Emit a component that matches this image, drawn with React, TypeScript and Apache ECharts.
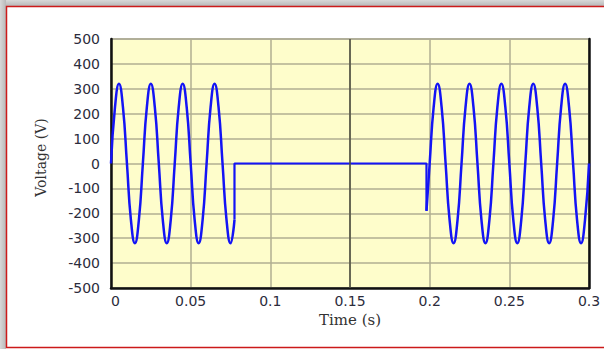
import React, { useEffect, useRef } from "react";
import * as echarts from "echarts";

// Time ticks / axis settings
const xTicks = [0, 0.05, 0.1, 0.15, 0.2, 0.25, 0.3];
const yTicks = [-500, -400, -300, -200, -100, 0, 100, 200, 300, 400, 500];

// Segment 1: supply present (0 – 0.0775 s)
const seg1Time = [
  0, 0.0025, 0.005, 0.0075, 0.01, 0.0125, 0.015, 0.0175,
  0.02, 0.0225, 0.025, 0.0275, 0.03, 0.0325, 0.035, 0.0375,
  0.04, 0.0425, 0.045, 0.0475, 0.05, 0.0525, 0.055, 0.0575,
  0.06, 0.0625, 0.065, 0.0675, 0.07, 0.0725, 0.075, 0.0775,
];
const seg1Volt = [
  0, 226, 320, 226, 0, -226, -320, -226,
  0, 226, 320, 226, 0, -226, -320, -226,
  0, 226, 320, 226, 0, -226, -320, -226,
  0, 226, 320, 226, 0, -226, -320, -226,
];

// Interruption: voltage held at zero
const gapTime = [0.0775, 0.0775, 0.198, 0.198];
const gapVolt = [-226, 0, 0, -190];

// Segment 2: supply restored (0.198 – 0.3 s)
const seg2Time = [
  0.198, 0.2, 0.2025, 0.205, 0.2075, 0.21, 0.2125, 0.215, 0.2175,
  0.22, 0.2225, 0.225, 0.2275, 0.23, 0.2325, 0.235, 0.2375,
  0.24, 0.2425, 0.245, 0.2475, 0.25, 0.2525, 0.255, 0.2575,
  0.26, 0.2625, 0.265, 0.2675, 0.27, 0.2725, 0.275, 0.2775,
  0.28, 0.2825, 0.285, 0.2875, 0.29, 0.2925, 0.295, 0.2975, 0.3,
];
const seg2Volt = [
  -190, 0, 226, 320, 226, 0, -226, -320, -226,
  0, 226, 320, 226, 0, -226, -320, -226,
  0, 226, 320, 226, 0, -226, -320, -226,
  0, 226, 320, 226, 0, -226, -320, -226,
  0, 226, 320, 226, 0, -226, -320, -226, 0,
];

const pairs = (t: number[], v: number[]) => t.map((x, i) => [x, v[i]]);

export default function App() {
  const ref = useRef<HTMLDivElement>(null);
  useEffect(() => {
    if (!ref.current) return;
    const chart = echarts.init(ref.current, undefined, { renderer: "svg" });
    const blue = "#1414f5";
    const gridColor = "#b0ae92";
    const labelColor = "#2c2c3c";
    chart.setOption({
      animation: false,
      backgroundColor: "#ffffff",
      graphic: [
        {
          type: "rect",
          z: -10,
          shape: { x: 0, y: 0, width: 604, height: 6 },
          style: {
            fill: new echarts.graphic.LinearGradient(0, 0, 0, 1, [
              { offset: 0, color: "#d8d8d8" },
              { offset: 1, color: "#b8b8b8" },
            ]),
          },
          silent: true,
        },
        {
          type: "rect",
          z: -10,
          shape: { x: 0, y: 0, width: 6, height: 349 },
          style: {
            fill: new echarts.graphic.LinearGradient(0, 0, 1, 0, [
              { offset: 0, color: "#d8d8d8" },
              { offset: 1, color: "#b8b8b8" },
            ]),
          },
          silent: true,
        },
        {
          type: "rect",
          z: -9,
          shape: { x: 6.5, y: 6.5, width: 700, height: 341 },
          style: { fill: "#ffffff", stroke: "#cc1a1a", lineWidth: 1.5 },
          silent: true,
        },
      ],
      grid: {
        left: 111,
        right: 15,
        top: 39,
        bottom: 61,
        show: true,
        backgroundColor: "#fefdcb",
        borderColor: "#9a9a9a",
        borderWidth: 1.5,
      },
      xAxis: {
        type: "value",
        min: xTicks[0],
        max: xTicks[xTicks.length - 1],
        interval: 0.05,
        name: "Time (s)",
        nameLocation: "middle",
        nameGap: 22,
        nameTextStyle: { fontFamily: "DejaVu Serif", fontSize: 15, color: "#333" },
        axisLine: { show: true, onZero: false, lineStyle: { color: "#111", width: 2.5 } },
        axisTick: { show: false },
        splitLine: { show: true, lineStyle: { color: gridColor, width: 1.5 } },
        axisLabel: {
          fontFamily: "DejaVu Sans",
          fontSize: 14,
          color: labelColor,
          margin: 6,
          alignMinLabel: "left",
          formatter: (v: number) => String(+v.toFixed(2)),
        },
      },
      yAxis: [
        {
          type: "value",
          min: yTicks[0],
          max: yTicks[yTicks.length - 1],
          interval: 100,
          name: "Voltage (V)",
          nameLocation: "middle",
          nameGap: 63,
          nameTextStyle: {
            fontFamily: "DejaVu Serif",
            fontSize: 14,
            color: "#333",
            padding: [0, 0, 0, 12],
          },
          axisLine: { show: true, onZero: false, lineStyle: { color: "#111", width: 2.5 } },
          axisTick: { show: false },
          splitLine: { show: true, lineStyle: { color: gridColor, width: 1.5 } },
          axisLabel: {
            fontFamily: "DejaVu Sans",
            fontSize: 14,
            color: labelColor,
            margin: 11,
            padding: [7, 0, 0, 0],
          },
        },
        {
          type: "value",
          position: "right",
          min: yTicks[0],
          max: yTicks[yTicks.length - 1],
          interval: 100,
          axisLine: { show: true, onZero: false, lineStyle: { color: "#111", width: 2.5 } },
          axisTick: { show: false },
          axisLabel: { show: false },
          splitLine: { show: false },
        },
      ],
      series: [
        {
          type: "line",
          z: 1,
          data: [],
          markLine: {
            silent: true,
            symbol: "none",
            label: { show: false },
            lineStyle: { color: "#4a4a3c", width: 1.5, type: "solid" },
            data: [{ xAxis: xTicks[3] }],
          },
        },
        {
          type: "line",
          z: 3,
          data: pairs(seg1Time, seg1Volt),
          smooth: true,
          showSymbol: false,
          lineStyle: { color: blue, width: 2.5 },
        },
        {
          type: "line",
          z: 3,
          data: pairs(gapTime, gapVolt),
          smooth: false,
          showSymbol: false,
          lineStyle: { color: blue, width: 2.2 },
        },
        {
          type: "line",
          z: 3,
          data: pairs(seg2Time, seg2Volt),
          smooth: true,
          showSymbol: false,
          lineStyle: { color: blue, width: 2.5 },
        },
      ],
    });
    return () => chart.dispose();
  }, []);
  return (
    <div
      ref={ref}
      style={{ position: "fixed", left: 0, top: 0, width: 604, height: 349 }}
    />
  );
}
